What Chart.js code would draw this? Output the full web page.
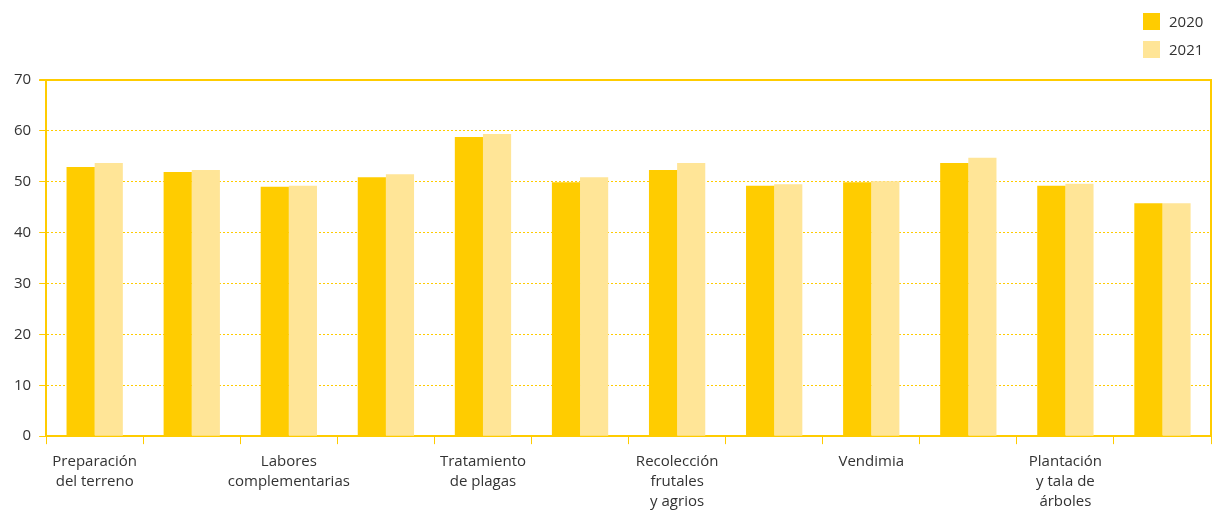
<!DOCTYPE html>
<html>
<head>
<meta charset="utf-8">
<script src="https://cdn.jsdelivr.net/npm/chart.js@4"></script>
<style>
  html, body { margin: 0; padding: 0; background: #fff; }
  #wrap { position: relative; width: 1222px; height: 513px; }
  #legend { position: absolute; left: 1143px; top: 7px; font: 15px "Open Sans", sans-serif; color: #333; }
  #legend div { display: flex; align-items: center; height: 28px; }
  #legend span.box { display: inline-block; width: 17px; height: 17px; margin-right: 9px; }
</style>
</head>
<body>
<div id="wrap">
  <canvas id="chart" width="1222" height="513"></canvas>
  <div id="legend"></div>
</div>
<script>
// Categories (only every other one carries a visible label)
const categories = [
  ['Preparación', 'del terreno'], '',
  ['Labores', 'complementarias'], '',
  ['Tratamiento', 'de plagas'], '',
  ['Recolección', 'frutales', 'y agrios'], '',
  ['Vendimia'], '',
  ['Plantación', 'y tala de', 'árboles'], ''
];

// Series values
const values2020 = [52.9, 51.9, 49.0, 50.9, 58.8, 49.9, 52.3, 49.2, 49.9, 53.7, 49.2, 45.8];
const values2021 = [53.7, 52.3, 49.2, 51.5, 59.4, 50.9, 53.7, 49.5, 50.1, 54.7, 49.6, 45.8];

const seriesNames = ['2020', '2021'];
const seriesColors = ['#ffcc00', '#ffe597'];

const yMin = 0;
const yMax = 70;
const yStep = 10;

const axisColor = '#ffcc00';
const textColor = '#333333';
const fontFamily = '"Open Sans", sans-serif';

// Build the HTML legend
const legend = document.querySelector('#legend');
seriesNames.forEach((name, i) => {
  const row = document.createElement('div');
  row.innerHTML = `<span class="box" style="background:${seriesColors[i]}"></span>${name}`;
  legend.appendChild(row);
});

// Draws the solid frame on top and right of the plot area
const framePlugin = {
  id: 'frame',
  afterDraw(chart) {
    const { ctx, chartArea } = chart;
    const yScale = chart.scales.y;
    ctx.save();
    ctx.strokeStyle = axisColor;
    ctx.lineWidth = 2;
    ctx.beginPath();
    ctx.moveTo(yScale.left + yScale.width - 7, chartArea.top);
    ctx.lineTo(chartArea.right, chartArea.top);
    ctx.lineTo(chartArea.right, chartArea.bottom);
    ctx.stroke();
    ctx.restore();
  }
};

const chart = new Chart(document.querySelector('#chart'), {
  type: 'bar',
  data: {
    labels: categories,
    datasets: [
      { label: seriesNames[0], data: values2020, backgroundColor: seriesColors[0] },
      { label: seriesNames[1], data: values2021, backgroundColor: seriesColors[1] }
    ]
  },
  options: {
    responsive: false,
    animation: false,
    layout: { padding: { left: 6, right: 11, top: 80, bottom: -7 } },
    categoryPercentage: 0.58,
    barPercentage: 1.0,
    plugins: {
      legend: { display: false },
      tooltip: { enabled: false }
    },
    scales: {
      x: {
        grid: {
          display: true,
          drawOnChartArea: false,
          offset: true,
          tickLength: 8,
          tickColor: axisColor,
          tickWidth: 1
        },
        border: { display: true, color: axisColor, width: 2 },
        ticks: {
          autoSkip: false,
          maxRotation: 0,
          padding: 8,
          color: textColor,
          font: { family: fontFamily, size: 15, lineHeight: 1.33 }
        }
      },
      y: {
        min: yMin,
        max: yMax,
        grid: {
          color: (ctx) => (ctx.tick && (ctx.tick.value === yMin || ctx.tick.value === yMax)) ? 'rgba(0,0,0,0)' : axisColor,
          lineWidth: 1,
          tickLength: 7,
          tickColor: axisColor,
          tickWidth: 1
        },
        border: { display: true, color: axisColor, width: 2, dash: [2, 2] },
        ticks: {
          stepSize: yStep,
          padding: 8,
          color: textColor,
          font: { family: fontFamily, size: 15 }
        }
      }
    }
  },
  plugins: [framePlugin]
});
</script>
</body>
</html>
